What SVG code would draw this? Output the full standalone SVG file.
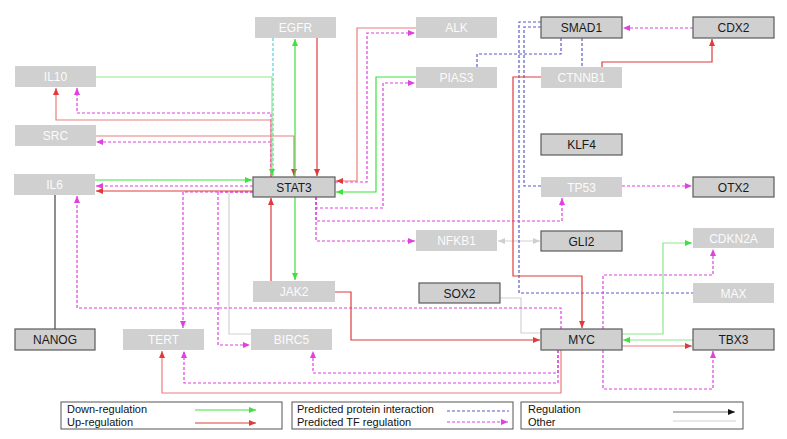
<svg xmlns="http://www.w3.org/2000/svg" width="787" height="439" viewBox="0 0 787 439">
<style>
.n rect{fill:#d0d0d0}
.d rect{stroke:#5a5a5a;stroke-width:1.2}
.n text{font-family:"Liberation Sans",Arial,sans-serif;font-size:12px;text-anchor:middle;fill:#fbfbfb}
.d text{fill:#1a1a1a}
.e path{fill:none;stroke-width:1.2}
.g{stroke:#3fe03f}
.gl{stroke:#8ae88a}
.r{stroke:#e03a3a}
.rl{stroke:#ec7c7c}
.m{stroke:#e040e0;stroke-dasharray:3,2}
.b{stroke:#5a5acc;stroke-dasharray:3,2}
.c{stroke:#5ad0e0;stroke-dasharray:3,2}
.o{stroke:#d2d2d2}
.k{stroke:#444}
.lg rect{fill:#fff;stroke:#555;stroke-width:1}
.lg text{font-family:"Liberation Sans",Arial,sans-serif;font-size:11px;fill:#111}
</style>
<defs>
<marker id="ag" markerUnits="userSpaceOnUse" markerWidth="8" markerHeight="6" refX="7" refY="3" orient="auto"><path d="M0,0 L7,3 L0,6 z" fill="#3fe03f"/></marker>
<marker id="ar" markerUnits="userSpaceOnUse" markerWidth="8" markerHeight="6" refX="7" refY="3" orient="auto"><path d="M0,0 L7,3 L0,6 z" fill="#e03a3a"/></marker>
<marker id="am" markerUnits="userSpaceOnUse" markerWidth="8" markerHeight="6" refX="7" refY="3" orient="auto"><path d="M0,0 L7,3 L0,6 z" fill="#e040e0"/></marker>
<marker id="ao" markerUnits="userSpaceOnUse" markerWidth="8" markerHeight="6" refX="7" refY="3" orient="auto-start-reverse"><path d="M0,0 L7,3 L0,6 z" fill="#cfcfcf"/></marker>
<marker id="ak" markerUnits="userSpaceOnUse" markerWidth="8" markerHeight="6" refX="7" refY="3" orient="auto"><path d="M0,0 L7,3 L0,6 z" fill="#111"/></marker>
</defs>

<g id="connectors" class="e">
<!-- other (gray) -->
<path class="o" d="M253,192 H229 V334 H251"/>
<path class="o" d="M500,298 H521 V333 H541"/>
<path class="o" d="M498,241 H540" marker-start="url(#ao)" marker-end="url(#ao)"/>
<path class="k" d="M55,195 V329"/>
<!-- protein interaction -->
<path class="c" d="M273,38 V177"/>
<path class="b" d="M582,38 V67"/>
<path class="b" d="M561,38 V54 H477 V67"/>
<path class="b" d="M541,27 H524 V186 H541"/>
<path class="b" d="M541,22 H519 V293 H693"/>
<!-- TF regulation -->
<path class="m" d="M271,177 V113 H77 V88" marker-end="url(#am)"/>
<path class="m" d="M271,177 V142 H96" marker-end="url(#am)"/>
<path class="m" d="M253,186 H96" marker-end="url(#am)"/>
<path class="m" d="M253,192 H183 V328" marker-end="url(#am)"/>
<path class="m" d="M253,192 H218 V345 H250" marker-end="url(#am)"/>
<path class="m" d="M335,182 H367 V33 H415" marker-end="url(#am)"/>
<path class="m" d="M316,197 V208 H383 V83 H415" marker-end="url(#am)"/>
<path class="m" d="M316,197 V221 H562 V198" marker-end="url(#am)"/>
<path class="m" d="M316,197 V241 H415" marker-end="url(#am)"/>
<path class="m" d="M561,329 V308 H77 V196" marker-end="url(#am)"/>
<path class="m" d="M558,350 V373 H313 V351" marker-end="url(#am)"/>
<path class="m" d="M558,350 V383 H184 V351" marker-end="url(#am)"/>
<path class="m" d="M603,329 V275 H713 V249" marker-end="url(#am)"/>
<path class="m" d="M603,350 V389 H713 V351" marker-end="url(#am)"/>
<path class="m" d="M693,28 H623" marker-end="url(#am)"/>
<path class="m" d="M622,186 H692" marker-end="url(#am)"/>
<!-- up-regulation -->
<path class="rl" d="M271,177 V120 H56 V88" marker-end="url(#ar)"/>
<path class="rl" d="M95,136 H294 V176" marker-end="url(#ar)"/>
<path class="r" d="M317,38 V176" marker-end="url(#ar)"/>
<path class="rl" d="M416,28 H357 V181 H336" marker-end="url(#ar)"/>
<path class="r" d="M253,191 H96" marker-end="url(#ar)"/>
<path class="r" d="M271,281 V198" marker-end="url(#ar)"/>
<path class="r" d="M335,292 H351 V340 H540" marker-end="url(#ar)"/>
<path class="r" d="M541,77 H513 V276 H582 V328" marker-end="url(#ar)"/>
<path class="r" d="M602,67 V62 H712 V39" marker-end="url(#ar)"/>
<path class="rl" d="M622,346 H692" marker-end="url(#ar)"/>
<path class="rl" d="M561,350 V393 H162 V351" marker-end="url(#ar)"/>
<!-- down-regulation -->
<path class="gl" d="M95,77 H272 V176" marker-end="url(#ag)"/>
<path class="g" d="M95,180 H252" marker-end="url(#ag)"/>
<path class="g" d="M295,177 V39" marker-end="url(#ag)"/>
<path class="g" d="M295,197 V280" marker-end="url(#ag)"/>
<path class="g" d="M416,77 H376 V192 H336" marker-end="url(#ag)"/>
<path class="gl" d="M622,334 H663 V243 H692" marker-end="url(#ag)"/>
<path class="gl" d="M693,340 H623" marker-end="url(#ag)"/>
</g>

<g id="IL10" class="n"><rect x="15" y="66" width="81" height="21"/><text x="55.5" y="81">IL10</text></g>
<g id="SRC" class="n"><rect x="15" y="125" width="81" height="21"/><text x="55.5" y="140">SRC</text></g>
<g id="IL6" class="n"><rect x="14" y="174" width="81" height="21"/><text x="54.5" y="189">IL6</text></g>
<g id="NANOG" class="n d"><rect x="15" y="329" width="80" height="21"/><text x="55" y="344">NANOG</text></g>
<g id="TERT" class="n"><rect x="123" y="329" width="81" height="21"/><text x="163.5" y="344">TERT</text></g>
<g id="EGFR" class="n"><rect x="255" y="17" width="81" height="21"/><text x="295.5" y="32">EGFR</text></g>
<g id="ALK" class="n"><rect x="416" y="17" width="81" height="21"/><text x="456.5" y="32">ALK</text></g>
<g id="PIAS3" class="n"><rect x="416" y="67" width="81" height="21"/><text x="456.5" y="82">PIAS3</text></g>
<g id="SMAD1" class="n d"><rect x="541" y="17" width="81" height="21"/><text x="581.5" y="32">SMAD1</text></g>
<g id="CDX2" class="n d"><rect x="693" y="17" width="81" height="21"/><text x="733.5" y="32">CDX2</text></g>
<g id="CTNNB1" class="n"><rect x="541" y="67" width="81" height="21"/><text x="581.5" y="82">CTNNB1</text></g>
<g id="KLF4" class="n d"><rect x="541" y="134" width="81" height="21"/><text x="581.5" y="149">KLF4</text></g>
<g id="STAT3" class="n d"><rect x="253" y="177" width="82" height="20"/><text x="294" y="191.5">STAT3</text></g>
<g id="TP53" class="n"><rect x="541" y="177" width="81" height="20"/><text x="581.5" y="191.5">TP53</text></g>
<g id="OTX2" class="n d"><rect x="693" y="177" width="81" height="20"/><text x="733.5" y="191.5">OTX2</text></g>
<g id="NFKB1" class="n"><rect x="416" y="230" width="81" height="21"/><text x="456.5" y="245">NFKB1</text></g>
<g id="GLI2" class="n d"><rect x="541" y="231" width="81" height="20"/><text x="581.5" y="245.5">GLI2</text></g>
<g id="CDKN2A" class="n"><rect x="693" y="228" width="81" height="20"/><text x="733.5" y="242.5">CDKN2A</text></g>
<g id="JAK2" class="n"><rect x="253" y="281" width="82" height="21"/><text x="294" y="296">JAK2</text></g>
<g id="SOX2" class="n d"><rect x="419" y="283" width="81" height="20"/><text x="459.5" y="297.5">SOX2</text></g>
<g id="MAX" class="n"><rect x="693" y="283" width="81" height="20"/><text x="733.5" y="297.5">MAX</text></g>
<g id="BIRC5" class="n"><rect x="251" y="329" width="81" height="21"/><text x="291.5" y="344">BIRC5</text></g>
<g id="MYC" class="n d"><rect x="541" y="329" width="81" height="21"/><text x="581.5" y="344">MYC</text></g>
<g id="TBX3" class="n d"><rect x="693" y="329" width="81" height="21"/><text x="733.5" y="344">TBX3</text></g>

<g id="legend" class="lg e">
<rect x="61" y="402" width="221" height="27"/>
<text x="67" y="413">Down-regulation</text>
<text x="67" y="426">Up-regulation</text>
<path class="g" d="M195,410 H256" marker-end="url(#ag)"/>
<path class="r" d="M195,423 H256" marker-end="url(#ar)"/>
<rect x="292" y="402" width="221" height="27"/>
<text x="297" y="413">Predicted protein interaction</text>
<text x="297" y="426">Predicted TF regulation</text>
<path class="b" d="M447,411 H509"/>
<path class="m" d="M447,422 H508" marker-end="url(#am)"/>
<rect x="521" y="402" width="222" height="27"/>
<text x="528" y="413">Regulation</text>
<text x="528" y="426">Other</text>
<path stroke="#777" d="M673,412 H735" marker-end="url(#ak)"/>
<path class="o" d="M673,421 H736"/>
</g>
</svg>
